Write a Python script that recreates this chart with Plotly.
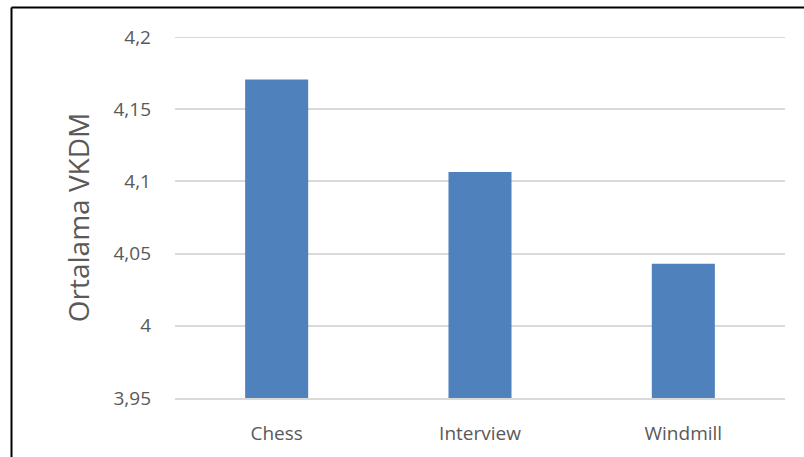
import plotly.graph_objects as go

categories = ["Chess", "Interview", "Windmill"]
values = [4.1706, 4.1065, 4.0429]
y_tickvals = [3.95, 4.0, 4.05, 4.1, 4.15, 4.2]
y_ticktext = ["3,95", "4", "4,05", "4,1", "4,15", "4,2"]
y_title = "Ortalama VKDM"

W, H = 804, 457
L, R, T, B = 175, 19, 37, 59
pw = W - L - R
ph = H - T - B

def px_x(px):
    return (px - L) / pw

def px_y(py):
    return (H - B - py) / ph

text_color = "#595959"
grid_color = "#D9D9D9"
font_family = "Open Sans, Liberation Sans, sans-serif"

fig = go.Figure(
    go.Bar(
        x=categories,
        y=values,
        width=0.31,
        marker=dict(color="#4F81BD", line=dict(width=0)),
    )
)

fig.update_layout(
    width=W,
    height=H,
    margin=dict(l=L, r=R, t=T, b=B, pad=0),
    paper_bgcolor="white",
    plot_bgcolor="white",
    showlegend=False,
    font=dict(family=font_family, color=text_color, size=19),
    shapes=[
        dict(type="line", xref="paper", yref="y",
             x0=0, x1=1, y0=y_tickvals[-1], y1=y_tickvals[-1],
             line=dict(color=grid_color, width=2), layer="below"),
        dict(type="line", xref="paper", yref="paper",
             x0=px_x(11.5), x1=px_x(11.5), y0=px_y(470), y1=px_y(7.5),
             line=dict(color="black", width=2)),
        dict(type="line", xref="paper", yref="paper",
             x0=px_x(11.5), x1=px_x(830), y0=px_y(7.5), y1=px_y(7.5),
             line=dict(color="black", width=2)),
    ],
)

fig.update_xaxes(
    showgrid=False,
    showline=True,
    linecolor=grid_color,
    linewidth=2,
    ticks="",
    tickfont=dict(size=19, color=text_color),
    ticklabelstandoff=17,
)

fig.update_yaxes(
    range=[3.95, 4.2],
    tickvals=y_tickvals,
    ticktext=y_ticktext,
    showgrid=True,
    gridcolor=grid_color,
    gridwidth=2,
    zeroline=False,
    showline=False,
    ticks="",
    tickfont=dict(size=19, color=text_color),
    ticklabelstandoff=23,
    title=dict(text=y_title, font=dict(size=28, color=text_color), standoff=15),
)

fig.write_html(
    "out.html",
    config={"displayModeBar": False},
    post_script="document.body.style.margin='0';document.body.style.overflow='hidden';",
)
